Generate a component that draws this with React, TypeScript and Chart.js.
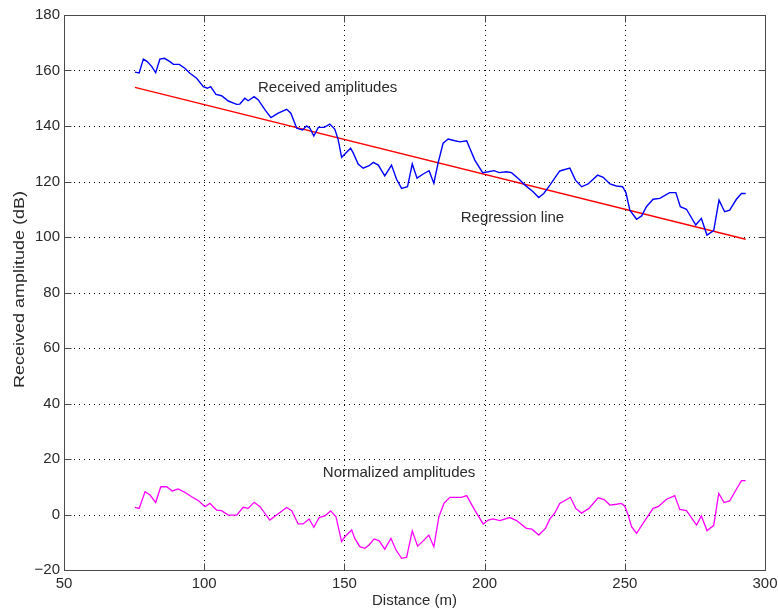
import React, { useEffect, useRef } from "react";
import { Chart, registerables } from "chart.js";

Chart.register(...registerables);

// Received amplitudes (blue)
const receivedDist = [75.3, 76.8, 78.3, 79.7, 81.3, 82.7, 84.2, 85.8, 87.8, 89.0, 91.1, 93.1, 94.9, 97.3, 99.7, 101.1, 102.3, 104.2, 106.2, 108.6, 111.6, 112.7, 114.5, 115.7, 117.8, 119.3, 121.7, 123.8, 126.4, 129.4, 130.9, 133.0, 135.1, 136.5, 137.7, 139.1, 140.7, 142.8, 144.8, 146.6, 147.8, 149.0, 150.2, 152.2, 153.1, 154.9, 156.7, 158.8, 160.3, 162.1, 164.4, 166.8, 168.6, 170.4, 172.5, 174.2, 175.9, 178.1, 180.2, 181.9, 183.4, 185.2, 187.0, 189.4, 191.2, 193.6, 196.5, 199.3, 201.3, 203.4, 205.2, 207.8, 209.6, 212.3, 214.4, 217.3, 219.3, 221.1, 223.3, 225.0, 226.8, 230.4, 232.4, 234.6, 236.9, 240.3, 242.3, 244.7, 247.0, 249.2, 250.4, 251.8, 254.2, 256.0, 257.7, 260.1, 262.5, 266.0, 268.2, 269.8, 272.0, 275.3, 277.3, 279.3, 281.7, 283.6, 285.6, 287.4, 289.8, 291.6, 293.1];
const receivedAmp = [159.4, 159.1, 164.1, 163.2, 161.4, 159.2, 164.1, 164.4, 163.2, 162.2, 162.2, 160.8, 159.0, 157.2, 154.2, 153.6, 154.2, 151.4, 150.9, 149.0, 147.8, 147.9, 150.0, 149.1, 150.6, 149.4, 145.8, 143.0, 144.6, 146.0, 144.6, 139.2, 138.6, 140.0, 139.2, 136.4, 139.5, 139.5, 140.7, 138.8, 135.0, 128.7, 129.9, 132.0, 130.4, 126.3, 124.8, 125.7, 126.9, 125.9, 122.0, 125.9, 120.8, 117.5, 118.1, 126.3, 121.2, 122.7, 123.9, 119.4, 126.6, 133.8, 135.3, 134.7, 134.3, 134.7, 127.7, 123.2, 123.5, 123.9, 123.2, 123.5, 123.2, 120.8, 118.7, 116.3, 114.2, 115.7, 118.7, 121.2, 123.8, 124.8, 120.5, 118.1, 119.1, 122.3, 121.5, 119.1, 118.4, 118.1, 116.0, 109.7, 106.4, 107.6, 110.9, 113.6, 113.9, 116.0, 116.0, 110.9, 110.0, 104.3, 106.7, 100.7, 102.3, 113.3, 109.1, 109.7, 113.6, 115.7, 115.7];

// Regression line (red)
const regressionDist = [75.3, 293.1];
const regressionAmp = [153.9, 99.2];

// Normalized amplitudes (magenta)
const normDist = [75.3, 76.8, 78.9, 80.7, 82.7, 84.5, 86.6, 88.6, 90.7, 93.1, 95.5, 98.1, 100.3, 102.0, 104.4, 106.2, 108.6, 111.6, 113.9, 115.7, 117.8, 119.9, 123.4, 125.8, 129.4, 131.2, 133.5, 135.3, 137.4, 139.1, 141.0, 143.0, 145.1, 147.0, 149.0, 150.2, 152.6, 153.7, 155.5, 157.3, 158.8, 160.6, 162.4, 164.4, 166.6, 168.4, 170.4, 172.2, 174.2, 176.1, 178.1, 180.1, 181.9, 183.7, 185.5, 187.6, 190.0, 191.8, 193.6, 196.5, 199.5, 201.3, 203.0, 205.4, 209.0, 211.4, 214.9, 216.9, 219.3, 221.7, 223.3, 225.0, 226.8, 230.6, 232.5, 234.6, 237.2, 240.5, 242.6, 244.7, 247.0, 248.8, 250.0, 251.2, 252.4, 254.2, 256.5, 260.1, 261.9, 264.9, 267.8, 269.6, 272.0, 275.6, 277.3, 279.3, 281.7, 283.5, 285.4, 287.4, 289.8, 291.6, 293.1];
const normAmp = [2.6, 2.2, 8.2, 7.0, 4.3, 10.0, 10.0, 8.5, 9.2, 8.0, 6.4, 4.9, 2.8, 4.0, 1.6, 1.4, -0.2, -0.2, 2.6, 2.2, 4.4, 2.8, -2.0, -0.2, 2.5, 1.4, -3.4, -3.4, -1.6, -4.6, -1.1, -0.5, 1.3, -0.8, -9.8, -8.0, -5.6, -8.6, -11.6, -12.2, -11.0, -8.8, -9.5, -12.5, -8.6, -12.8, -15.8, -15.4, -5.9, -11.4, -9.5, -7.4, -11.6, -0.8, 4.0, 6.2, 6.2, 6.2, 6.8, 1.6, -3.4, -2.0, -1.6, -2.2, -1.1, -2.2, -5.0, -5.3, -7.4, -5.0, -1.6, 0.5, 4.0, 6.2, 2.2, 0.5, 2.2, 6.0, 5.4, 3.4, 3.7, 4.0, 3.0, -0.2, -4.4, -6.8, -3.2, 2.2, 2.8, 5.5, 6.8, 1.8, 1.4, -3.8, -0.5, -5.8, -4.0, 7.6, 4.3, 4.9, 9.1, 12.2, 12.2];

const xTicks = [50, 100, 150, 200, 250, 300];
const yTicks = [-20, 0, 20, 40, 60, 80, 100, 120, 140, 160, 180];

const annotations = [
  { text: "Received amplitudes", x: 119.2, y: 153.8 },
  { text: "Regression line", x: 191.5, y: 106.8 },
  { text: "Normalized amplitudes", x: 142.3, y: 15.0 },
];

const xTitle = "Distance (m)";
const yTitle = "Received amplitude (dB)";

const FONT = '15px "Liberation Sans", Arial, sans-serif';

const toPts = (xs: number[], ys: number[]) => xs.map((x, i) => ({ x, y: ys[i] }));

const matlabPlugin = {
  id: "matlab",
  beforeDatasetsDraw(chart: any) {
    const { ctx, chartArea: a, scales } = chart;
    const xs = scales.x, ys = scales.y;
    ctx.save();
    ctx.strokeStyle = "#000";
    ctx.lineWidth = 1;
    ctx.setLineDash([1, 4]);
    for (const t of xTicks) {
      if (t === 50 || t === 300) continue;
      const px = Math.round(xs.getPixelForValue(t)) + 0.5;
      ctx.beginPath();
      ctx.moveTo(px, a.top);
      ctx.lineTo(px, a.bottom);
      ctx.stroke();
    }
    for (const t of yTicks) {
      if (t === -20 || t === 180) continue;
      const py = Math.round(ys.getPixelForValue(t)) + 0.5;
      ctx.beginPath();
      ctx.moveTo(a.left, py);
      ctx.lineTo(a.right, py);
      ctx.stroke();
    }
    ctx.restore();
  },
  afterDatasetsDraw(chart: any) {
    const { ctx, chartArea: a, scales } = chart;
    const xs = scales.x, ys = scales.y;
    ctx.save();
    ctx.setLineDash([]);
    ctx.strokeStyle = "#4a4a4a";
    ctx.lineWidth = 1;
    const L = Math.round(a.left) + 0.5, R = Math.round(a.right) + 0.5;
    const T = Math.round(a.top) + 0.5, B = Math.round(a.bottom) + 0.5;
    ctx.strokeRect(L, T, R - L, B - T);
    const tl = 7;
    ctx.beginPath();
    for (const t of xTicks) {
      const px = Math.round(xs.getPixelForValue(t)) + 0.5;
      ctx.moveTo(px, B); ctx.lineTo(px, B - tl);
      ctx.moveTo(px, T); ctx.lineTo(px, T + tl);
    }
    for (const t of yTicks) {
      const py = Math.round(ys.getPixelForValue(t)) + 0.5;
      ctx.moveTo(L, py); ctx.lineTo(L + tl, py);
      ctx.moveTo(R, py); ctx.lineTo(R - tl, py);
    }
    ctx.stroke();

    ctx.fillStyle = "#2a2a2a";
    ctx.font = FONT;
    ctx.textAlign = "center";
    ctx.textBaseline = "middle";
    for (const t of xTicks) {
      ctx.fillText(String(t), xs.getPixelForValue(t), a.bottom + 14);
    }
    ctx.textAlign = "right";
    for (const t of yTicks) {
      const s = t < 0 ? "\u2212" + Math.abs(t) : String(t);
      ctx.fillText(s, a.left - 4, ys.getPixelForValue(t));
    }
    ctx.textAlign = "center";
    ctx.fillText(xTitle, (a.left + a.right) / 2, a.bottom + 31);
    ctx.save();
    ctx.translate(20, (a.top + a.bottom) / 2 - 3);
    ctx.rotate(-Math.PI / 2);
    ctx.scale(1.2, 1);
    ctx.fillText(yTitle, 0, 0);
    ctx.restore();

    ctx.textAlign = "left";
    for (const an of annotations) {
      ctx.fillText(an.text, xs.getPixelForValue(an.x), ys.getPixelForValue(an.y));
    }
    ctx.restore();
  },
};

export default function App() {
  const ref = useRef<HTMLCanvasElement | null>(null);
  useEffect(() => {
    document.body.style.margin = "0";
    const chart = new Chart(ref.current as HTMLCanvasElement, {
      type: "scatter",
      data: {
        datasets: [
          {
            label: "Received amplitudes",
            data: toPts(receivedDist, receivedAmp),
            showLine: true,
            borderColor: "#0000ff",
            borderWidth: 1.4,
            pointRadius: 0,
            tension: 0,
          },
          {
            label: "Regression line",
            data: toPts(regressionDist, regressionAmp),
            showLine: true,
            borderColor: "#ff0000",
            borderWidth: 1.4,
            pointRadius: 0,
          },
          {
            label: "Normalized amplitudes",
            data: toPts(normDist, normAmp),
            showLine: true,
            borderColor: "#ff00ff",
            borderWidth: 1.3,
            pointRadius: 0,
          },
        ],
      },
      options: {
        animation: false,
        responsive: false,
        layout: { padding: { left: 64, top: 15, right: 13, bottom: 42 } },
        plugins: { legend: { display: false }, tooltip: { enabled: false } },
        scales: {
          x: { type: "linear", display: false, min: 50, max: 300 },
          y: { type: "linear", display: false, min: -20, max: 180 },
        },
      },
      plugins: [matlabPlugin],
    });
    return () => chart.destroy();
  }, []);
  return (
    <div style={{ position: "absolute", left: 0, top: 0, width: 778, height: 612, background: "#fff" }}>
      <canvas ref={ref} width={778} height={612} />
    </div>
  );
}
